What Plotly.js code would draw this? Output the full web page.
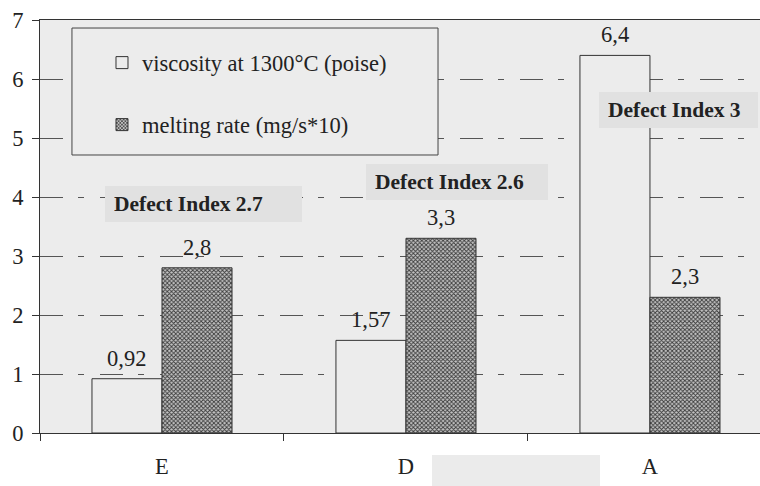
<!DOCTYPE html>
<html>
<head>
<meta charset="utf-8">
<script src="https://cdn.plot.ly/plotly-3.0.1.min.js"></script>
<style>
  html, body { margin: 0; padding: 0; background: #ffffff; }
  #chart { width: 760px; height: 486px; }
</style>
</head>
<body>
<div id="chart"></div>
<script>
// Samples and measured properties
const categories = ['E', 'D', 'A'];
const viscosity = [0.92, 1.57, 6.4];      // viscosity at 1300°C (poise)
const meltingRate = [2.8, 3.3, 2.3];      // melting rate (mg/s*10)
const defectIndex = ['2.7', '2.6', '3'];
const yTicks = [0, 1, 2, 3, 4, 5, 6, 7];

const serif = 'Liberation Serif, Times New Roman, serif';
const textSize = 22.5;
const plotBg = '#ececec';
const edge = '#333333';

// decimal comma for value labels
const fmt = v => String(v).replace('.', ',');

const traces = [
  {
    type: 'bar',
    name: 'viscosity at 1300°C (poise)',
    x: categories,
    y: viscosity,
    marker: { color: plotBg, line: { color: edge, width: 1 } },
    legend: 'legend',
    hoverinfo: 'x+y'
  },
  {
    type: 'bar',
    name: 'melting rate (mg/s*10)',
    x: categories,
    y: meltingRate,
    marker: {
      color: '#c4c4c4',
      line: { color: edge, width: 1 },
      pattern: { shape: 'x', fgcolor: '#3a3a3a', bgcolor: '#c4c4c4', size: 3, solidity: 0.5 }
    },
    legend: 'legend2',
    hoverinfo: 'x+y'
  }
];

// value labels above each bar
const annotations = [];
categories.forEach((c, i) => {
  annotations.push({
    x: c, y: viscosity[i], xref: 'x', yref: 'y',
    text: fmt(viscosity[i]), showarrow: false,
    xshift: -35, yshift: 6, yanchor: 'bottom',
    font: { family: serif, size: textSize, color: '#222' }
  });
  annotations.push({
    x: c, y: meltingRate[i], xref: 'x', yref: 'y',
    text: fmt(meltingRate[i]), showarrow: false,
    xshift: 35, yshift: 6, yanchor: 'bottom',
    font: { family: serif, size: textSize, color: '#222' }
  });
});

// defect index captions in shaded boxes
const defectBoxes = [
  { x: 0.0903, y: 3.88, w: 179 },
  { x: 0.4528, y: 4.25, w: 164 },
  { x: 0.7764, y: 5.47, w: 141 }
];
defectIndex.forEach((d, i) => {
  const b = defectBoxes[i];
  annotations.push({
    x: b.x, y: b.y, xref: 'paper', yref: 'y',
    xanchor: 'left', yanchor: 'middle',
    text: '<b>Defect Index ' + d + '</b>',
    showarrow: false, align: 'left',
    width: b.w, height: 18, borderpad: 9, borderwidth: 0,
    bgcolor: '#e1e1e1',
    font: { family: serif, size: 21.5, color: '#222' }
  });
});

const layout = {
  width: 760,
  height: 486,
  margin: { l: 40, r: 0, t: 20, b: 53 },
  paper_bgcolor: '#ffffff',
  plot_bgcolor: plotBg,
  barmode: 'group',
  bargap: 0.426,
  bargroupgap: 0,
  font: { family: serif, size: textSize, color: '#222' },
  xaxis: {
    type: 'category',
    range: [-0.5, 2.451],
    showgrid: false,
    showline: true,
    linecolor: edge,
    linewidth: 1,
    mirror: true,
    ticks: 'outside',
    tickson: 'boundaries',
    ticklen: 7,
    tickcolor: edge,
    ticklabelstandoff: 13,
    tickfont: { family: serif, size: textSize, color: '#222' },
    zeroline: false,
    fixedrange: true
  },
  yaxis: {
    range: [0, 7],
    tickvals: yTicks,
    ticktext: yTicks.map(String),
    showgrid: true,
    gridcolor: '#555555',
    gridwidth: 1,
    griddash: '23px,15px,6px,16px',
    showline: true,
    linecolor: edge,
    linewidth: 1,
    ticks: 'outside',
    ticklen: 7,
    tickcolor: edge,
    ticklabelstandoff: 4,
    tickfont: { family: serif, size: textSize, color: '#222' },
    zeroline: false,
    fixedrange: true
  },
  legend: {
    x: 0.0861, y: 0.8959, xanchor: 'left', yanchor: 'middle',
    bgcolor: 'rgba(0,0,0,0)', borderwidth: 0,
    font: { family: serif, size: textSize, color: '#222' }
  },
  legend2: {
    x: 0.0861, y: 0.7458, xanchor: 'left', yanchor: 'middle',
    bgcolor: 'rgba(0,0,0,0)', borderwidth: 0,
    font: { family: serif, size: textSize, color: '#222' }
  },
  shapes: [
    // legend frame
    {
      type: 'rect', xref: 'paper', yref: 'y',
      x0: 0.0444, x1: 0.5528, y0: 4.712, y1: 6.864,
      fillcolor: plotBg, line: { color: '#444', width: 1 }, layer: 'above'
    },
    // shaded strip under the category axis
    {
      type: 'rect', xref: 'paper', yref: 'paper',
      x0: 0.5444, x1: 0.7778, y0: -0.0533, y1: -0.1283,
      fillcolor: '#ebebeb', line: { width: 0 }, layer: 'above'
    }
  ],
  annotations: annotations,
  showlegend: true,
  hovermode: false
};

Plotly.newPlot('chart', traces, layout, { displayModeBar: false, staticPlot: true });
</script>
</body>
</html>
